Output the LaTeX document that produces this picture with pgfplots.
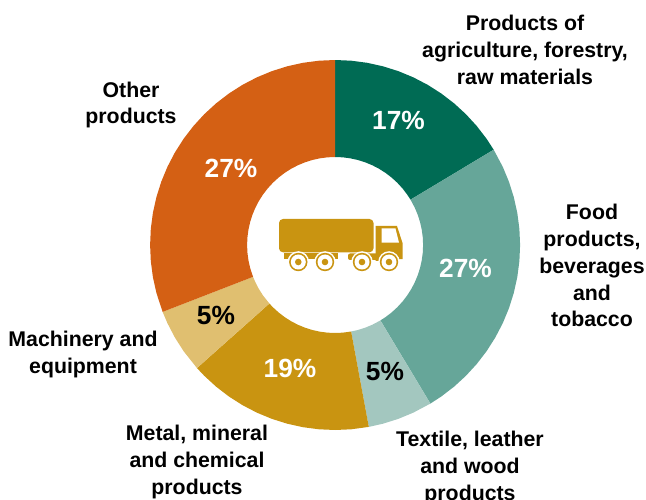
\documentclass[border=0pt]{standalone}
\usepackage{pgfplots}
\pgfplotsset{compat=1.18}
\usepgfplotslibrary{polar}
\usepackage{fontspec}
\setmainfont{Liberation Sans}
\definecolor{cA}{HTML}{006B54}
\definecolor{cB}{HTML}{66A699}
\definecolor{cC}{HTML}{A3C7BF}
\definecolor{cD}{HTML}{C99411}
\definecolor{cE}{HTML}{E0BF70}
\definecolor{cF}{HTML}{D46014}
\begin{document}
\begin{tikzpicture}[x=1pt,y=1pt]
\path[use as bounding box] (0,0) rectangle (646,499);
\begin{polaraxis}[
  at={(335.1pt,254pt)},anchor=center,
  scale only axis,width=370pt,height=370pt,
  hide axis,xmin=0,xmax=360,ymin=0,ymax=185,
  clip=false,
  every axis plot/.append style={draw=none,mark=none,no markers}]
\addplot[fill=cA] coordinates {(90,88)(90,185)(85,185)(80,185)(75,185)(70,185)(65,185)(60,185)(55,185)(50,185)(45,185)(40,185)(35,185)(31,185)(31,88)(35,88)(40,88)(45,88)(50,88)(55,88)(60,88)(65,88)(70,88)(75,88)(80,88)(85,88)};
\addplot[fill=cB] coordinates {(31,88)(31,185)(25,185)(20,185)(15,185)(10,185)(5,185)(0,185)(-5,185)(-10,185)(-15,185)(-20,185)(-25,185)(-30,185)(-35,185)(-40,185)(-45,185)(-50,185)(-55,185)(-59,185)(-59,88)(-55,88)(-50,88)(-45,88)(-40,88)(-35,88)(-30,88)(-25,88)(-20,88)(-15,88)(-10,88)(-5,88)(0,88)(5,88)(10,88)(15,88)(20,88)(25,88)};
\addplot[fill=cC] coordinates {(-59,88)(-59,185)(-65,185)(-70,185)(-75,185)(-79.5,185)(-79.5,88)(-75,88)(-70,88)(-65,88)};
\addplot[fill=cD] coordinates {(-79.5,88)(-79.5,185)(-85,185)(-90,185)(-95,185)(-100,185)(-105,185)(-110,185)(-115,185)(-120,185)(-125,185)(-130,185)(-135,185)(-138.3,185)(-138.3,88)(-135,88)(-130,88)(-125,88)(-120,88)(-115,88)(-110,88)(-105,88)(-100,88)(-95,88)(-90,88)(-85,88)};
\addplot[fill=cE] coordinates {(-138.3,88)(-138.3,185)(-145,185)(-150,185)(-155,185)(-158.8,185)(-158.8,88)(-155,88)(-150,88)(-145,88)};
\addplot[fill=cF] coordinates {(-158.8,88)(-158.8,185)(-165,185)(-170,185)(-175,185)(-180,185)(-185,185)(-190,185)(-195,185)(-200,185)(-205,185)(-210,185)(-215,185)(-220,185)(-225,185)(-230,185)(-235,185)(-240,185)(-245,185)(-250,185)(-255,185)(-260,185)(-265,185)(-270,185)(-270,88)(-265,88)(-260,88)(-255,88)(-250,88)(-245,88)(-240,88)(-235,88)(-230,88)(-225,88)(-220,88)(-215,88)(-210,88)(-205,88)(-200,88)(-195,88)(-190,88)(-185,88)(-180,88)(-175,88)(-170,88)(-165,88)};
\end{polaraxis}
\begin{scope}[shift={(0,499)},y=-1pt,x=1pt]
\tikzset{lab/.style={align=center,font=\fontsize{21.3}{26.7}\selectfont\bfseries,inner sep=0pt},
 pct/.style={font=\fontsize{26.3}{30}\selectfont\bfseries,inner sep=0pt}}
\node[lab] at (525,50) {Products of\\agriculture, forestry,\\raw materials};
\node[lab] at (592,265.7) {Food\\products,\\beverages\\and\\tobacco};
\node[lab] at (470,468) {Textile, leather\\and wood\\products};
\node[lab] at (197,462) {Metal, mineral\\and chemical\\products};
\node[lab] at (83,354.5) {Machinery and\\equipment};
\node[lab] at (131,105) {Other\\products};
\node[pct,white] at (398.5,120) {17\%};
\node[pct,white] at (465.5,268) {27\%};
\node[pct] at (385,371) {5\%};
\node[pct,white] at (290,368) {19\%};
\node[pct] at (216,315) {5\%};
\node[pct,white] at (231,168) {27\%};
% truck icon
\fill[cD] (284,253.5) rectangle (338,259.5);
\fill[cD,rounded corners=2pt] (348,253.5) rectangle (380,260);
\fill[cD] (375.5,253) -- (375.5,226) -- (397,226) -- (402.5,243) -- (402.5,259) -- (375.5,261) -- cycle;
\fill[white] (381.7,228.5) -- (395.5,228.5) -- (399,242.7) -- (381.7,242.7) -- cycle;
\fill[cD,rounded corners=4pt] (279,219) rectangle (373.5,252.3);
\foreach \x in {298.3,325,362,389}{
  \fill[white] (\x,262) circle (10.8);
  \fill[cD] (\x,262) circle (9.2);
  \fill[white] (\x,262) circle (7.5);
  \fill[cD] (\x,262) circle (3.3);
}
\end{scope}
\end{tikzpicture}
\end{document}
